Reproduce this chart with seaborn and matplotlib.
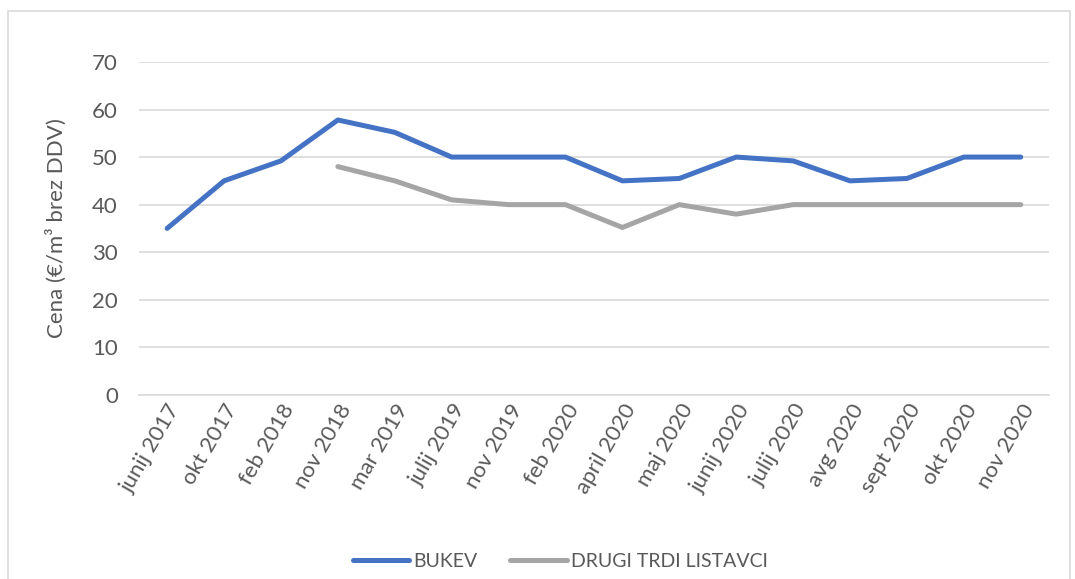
import numpy as np
import pandas as pd
import matplotlib.pyplot as plt
import seaborn as sns
from matplotlib.patches import Rectangle

# Data
months = ["junij 2017", "okt 2017", "feb 2018", "nov 2018", "mar 2019", "julij 2019",
          "nov 2019", "feb 2020", "april 2020", "maj 2020", "junij 2020", "julij 2020",
          "avg 2020", "sept 2020", "okt 2020", "nov 2020"]
bukev = [35, 45, 49.2, 57.8, 55.2, 50, 50, 50, 45, 45.5, 50, 49.2, 45, 45.5, 50, 50]
drugi = [np.nan, np.nan, np.nan, 48, 45, 41, 40, 40, 35.2, 40, 38, 40, 40, 40, 40, 40]
series_names = ["BUKEV", "DRUGI TRDI LISTAVCI"]
colors = ["#4472C4", "#A5A5A5"]

df = pd.DataFrame({"Mesec": months * 2,
                   "Cena": bukev + drugi,
                   "Serija": [series_names[0]] * len(months) + [series_names[1]] * len(months)})

sns.set_theme(style="white")
plt.rcParams['font.family'] = ['Lato', 'DejaVu Sans']
TXT = "#595959"

fig = plt.figure(figsize=(10.75, 5.79), dpi=100)
ax = fig.add_axes([0.129, 0.318, 0.847, 0.575])

sns.lineplot(data=df, x="Mesec", y="Cena", hue="Serija", palette=colors,
             linewidth=3.6, sort=False, ax=ax, legend=True)
for ln in ax.lines:
    ln.set_solid_capstyle('round')
    ln.set_solid_joinstyle('round')

ax.set_xlim(-0.5, len(months) - 0.5)
ax.set_ylim(0, 70)
ax.set_yticks(range(0, 71, 10))
ax.yaxis.grid(True, color="#d9d9d9", linewidth=1.2)
ax.set_axisbelow(True)
for s in ["top", "right", "left"]:
    ax.spines[s].set_visible(False)
ax.spines["bottom"].set_color("#d9d9d9")
ax.spines["bottom"].set_linewidth(1.2)

ax.set_xlabel("")
ax.set_ylabel("Cena (€/m³ brez DDV)", fontsize=16, color=TXT, labelpad=18)
ax.tick_params(axis="y", labelsize=16, labelcolor=TXT, length=0, pad=15)
ax.tick_params(axis="x", labelsize=16, labelcolor=TXT, length=0, pad=4)
plt.setp(ax.get_xticklabels(), rotation=60, ha="right", rotation_mode="anchor")

handles, labels = ax.get_legend_handles_labels()
ax.legend(handles, labels, loc="center", bbox_to_anchor=(0.521, 0.03),
          bbox_transform=fig.transFigure, ncol=2, frameon=False, fontsize=14,
          labelcolor=TXT, handlelength=2.9, columnspacing=1.7, handletextpad=0.2)
for h in ax.get_legend().get_lines():
    h.set_linewidth(3.6)

fig.patches.append(Rectangle((8 / 1075, -0.01), 1062 / 1075, 1 - 11 / 579 + 0.01,
                             transform=fig.transFigure, fill=False,
                             edgecolor="#d9d9d9", linewidth=1.2))

fig.savefig("out.png", dpi=100)
